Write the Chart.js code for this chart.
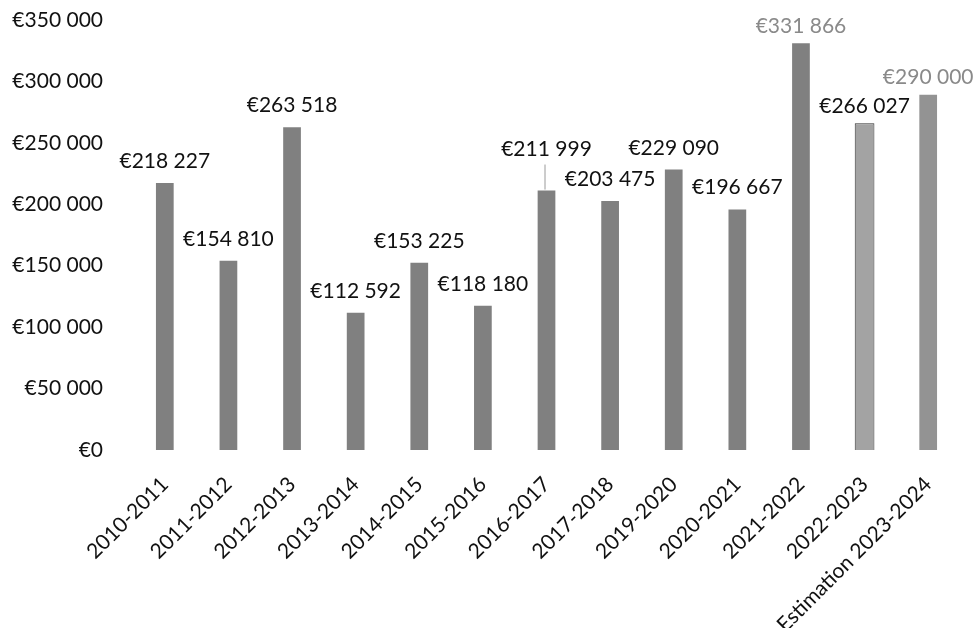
<!DOCTYPE html>
<html>
<head>
<meta charset="utf-8">
<script src="https://cdn.jsdelivr.net/npm/chart.js@4.4.1/dist/chart.umd.min.js"></script>
<style>
  html, body { margin: 0; padding: 0; background: #ffffff; }
  #wrap { width: 973px; height: 628px; position: relative; }
</style>
</head>
<body>
<div id="wrap"><canvas id="chart" width="973" height="628"></canvas></div>
<script>
// Budget per school year (euros)
const categories = [
  '2010-2011', '2011-2012', '2012-2013', '2013-2014', '2014-2015', '2015-2016',
  '2016-2017', '2017-2018', '2019-2020', '2020-2021', '2021-2022', '2022-2023',
  'Estimation 2023-2024'
];
const amounts = [
  218227, 154810, 263518, 112592, 153225, 118180,
  211999, 203475, 229090, 196667, 331866, 266027,
  290000
];
const yTicks = [0, 50000, 100000, 150000, 200000, 250000, 300000, 350000];

const FONT = 'Lato, "Open Sans", "Noto Sans", sans-serif';
const FONT_SIZE = 21;

function euro(v) {
  return '€' + String(Math.round(v)).replace(/\B(?=(\d{3})+(?!\d))/g, ' ');
}

const barColors = categories.map((c, i) =>
  i === 11 ? '#a3a3a3' : (i === 12 ? '#939393' : '#808080'));
const barBorders = categories.map((c, i) => i === 11 ? '#333333' : 'rgba(0,0,0,0)');

// value labels above each bar; one label is lifted with a leader line
const valueLabels = {
  id: 'valueLabels',
  afterDatasetsDraw(chart, args, opts) {
    const ctx = chart.ctx;
    const meta = chart.getDatasetMeta(0);
    ctx.save();
    ctx.font = FONT_SIZE + 'px ' + FONT;
    ctx.textAlign = 'center';
    ctx.textBaseline = 'alphabetic';
    meta.data.forEach((bar, i) => {
      const lift = opts.lift[categories[i]] || 0;
      const gap = opts.gap[categories[i]] || 14;
      const y = bar.y - gap - lift;
      ctx.fillStyle = opts.muted.includes(categories[i]) ? '#8a8a8a' : '#111111';
      ctx.fillText(euro(amounts[i]), bar.x, y);
      if (lift) {
        ctx.strokeStyle = '#9a9a9a';
        ctx.lineWidth = 1;
        ctx.beginPath();
        ctx.moveTo(bar.x - 1.5, y + 9);
        ctx.lineTo(bar.x - 1.5, bar.y);
        ctx.stroke();
      }
    });
    ctx.restore();
  }
};

new Chart(document.getElementById('chart'), {
  type: 'bar',
  data: {
    labels: categories,
    datasets: [{
      data: amounts,
      backgroundColor: barColors,
      borderColor: barBorders,
      borderWidth: 1,
      categoryPercentage: 1.0,
      barPercentage: 0.31
    }]
  },
  options: {
    responsive: false,
    animation: false,
    devicePixelRatio: 1,
    layout: { padding: { top: 20, right: 13, bottom: 0, left: 10 } },
    plugins: {
      legend: { display: false },
      tooltip: { enabled: false },
      valueLabels: {
        lift: { '2016-2017': 20 },
        gap: { '2021-2022': 9, '2022-2023': 10, 'Estimation 2023-2024': 10 },
        muted: ['2021-2022', 'Estimation 2023-2024']
      }
    },
    scales: {
      x: {
        grid: { display: false },
        border: { display: false },
        ticks: {
          color: '#111111',
          font: { family: FONT, size: FONT_SIZE },
          minRotation: 45,
          maxRotation: 45,
          padding: 14,
          autoSkip: false
        },
        afterFit(scale) { scale.height = 178; }
      },
      y: {
        min: 0,
        max: 350000,
        grid: { display: false },
        border: { display: false },
        afterBuildTicks(scale) { scale.ticks = yTicks.map(v => ({ value: v })); },
        ticks: {
          color: '#111111',
          font: { family: FONT, size: FONT_SIZE },
          padding: 22,
          callback: (v) => euro(v)
        },
        afterFit(scale) {
          scale.width = 123;
          scale.paddingTop = 0;
          scale.paddingBottom = 0;
        }
      }
    }
  },
  plugins: [valueLabels]
});
</script>
</body>
</html>
